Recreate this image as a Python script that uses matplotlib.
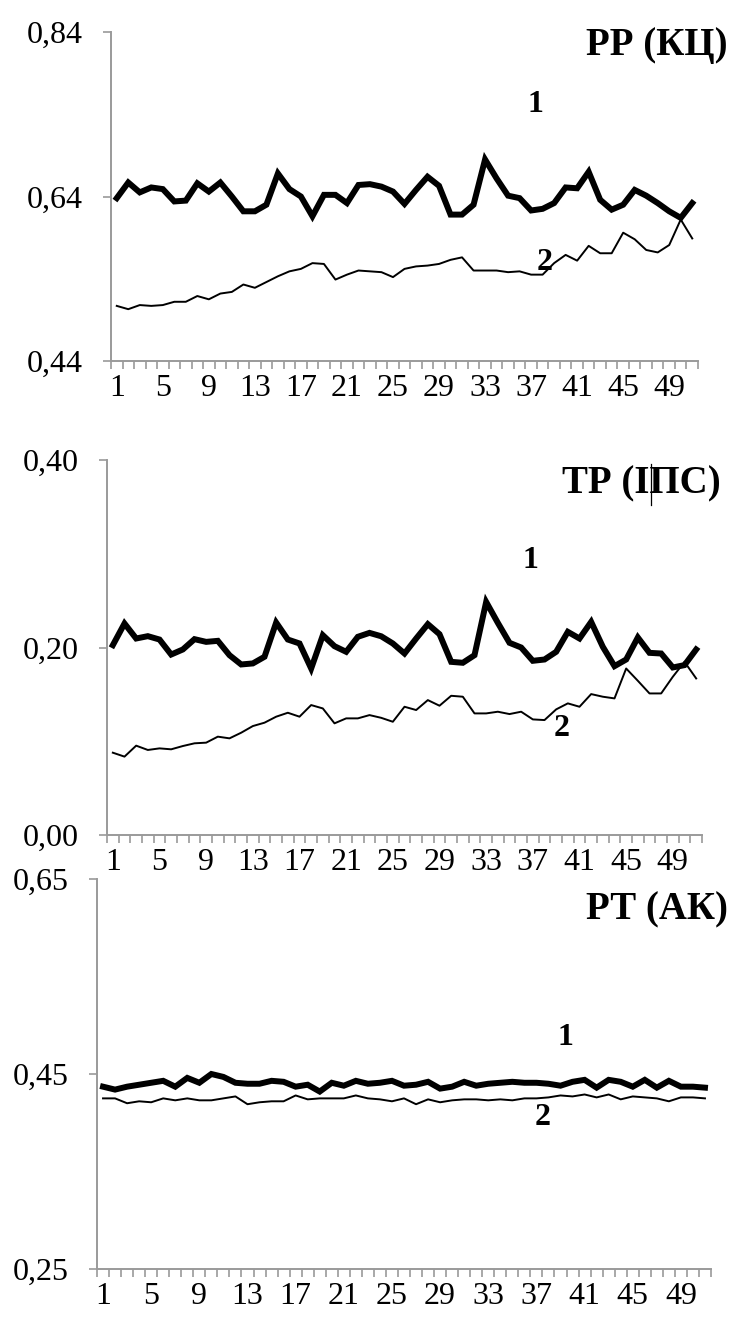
import numpy as np
import matplotlib
matplotlib.use("Agg")
import matplotlib.pyplot as plt
from matplotlib.ticker import FixedLocator, FixedFormatter, NullFormatter
from matplotlib.lines import Line2D

W, H = 743, 1317
x = np.arange(1, 52)
x_labels = [str(i) for i in range(1, 52, 4)]

# Panel 1: РР (КЦ)
p1_s1 = [0.638, 0.657, 0.645, 0.651, 0.649, 0.634, 0.635, 0.656, 0.646, 0.657,
         0.640, 0.622, 0.622, 0.630, 0.668, 0.649, 0.640, 0.616, 0.642, 0.642,
         0.632, 0.654, 0.655, 0.652, 0.646, 0.631, 0.648, 0.664, 0.653, 0.618,
         0.618, 0.630, 0.685, 0.662, 0.641, 0.638, 0.623, 0.625, 0.632, 0.651,
         0.650, 0.670, 0.636, 0.624, 0.630, 0.648, 0.641, 0.632, 0.622, 0.614,
         0.632]
p1_s2 = [0.507, 0.503, 0.508, 0.507, 0.508, 0.512, 0.512, 0.519, 0.515, 0.522,
         0.524, 0.533, 0.529, 0.536, 0.543, 0.549, 0.552, 0.559, 0.558, 0.539,
         0.545, 0.550, 0.549, 0.548, 0.542, 0.552, 0.555, 0.556, 0.558, 0.563,
         0.566, 0.550, 0.550, 0.550, 0.548, 0.549, 0.545, 0.545, 0.559, 0.569,
         0.562, 0.580, 0.571, 0.571, 0.596, 0.588, 0.575, 0.572, 0.581, 0.612,
         0.589]

# Panel 2: ТР (ІПС)
p2_s1 = [0.2025, 0.2256, 0.2096, 0.2121, 0.2085, 0.1925, 0.1979, 0.2089, 0.2060, 0.2071,
         0.1918, 0.1819, 0.1830, 0.1901, 0.2266, 0.2085, 0.2043, 0.1776, 0.2131, 0.2014,
         0.1954, 0.2114, 0.2156, 0.2120, 0.2043, 0.1936, 0.2096, 0.2249, 0.2142, 0.1847,
         0.1837, 0.1918, 0.2486, 0.2263, 0.2050, 0.2000, 0.1858, 0.1872, 0.1954, 0.2167,
         0.2096, 0.2273, 0.2007, 0.1801, 0.1872, 0.2107, 0.1943, 0.1936, 0.1787, 0.1812,
         0.1979]
p2_s2 = [0.0878, 0.0836, 0.0953, 0.0907, 0.0924, 0.0914, 0.0949, 0.0978, 0.0985, 0.1049,
         0.1031, 0.1091, 0.1162, 0.1198, 0.1262, 0.1304, 0.1262, 0.1386, 0.1350, 0.1191,
         0.1244, 0.1244, 0.1279, 0.1250, 0.1208, 0.1368, 0.1333, 0.1439, 0.1379, 0.1485,
         0.1475, 0.1297, 0.1297, 0.1315, 0.1290, 0.1315, 0.1233, 0.1226, 0.1340, 0.1404,
         0.1368, 0.1503, 0.1475, 0.1457, 0.1776, 0.1645, 0.1510, 0.1510, 0.1688, 0.1847,
         0.1670]

# Panel 3: РТ (АК)
p3_s1 = [0.437, 0.434, 0.437, 0.439, 0.441, 0.443, 0.437, 0.446, 0.441, 0.450,
         0.447, 0.441, 0.440, 0.440, 0.443, 0.442, 0.437, 0.439, 0.432, 0.441,
         0.438, 0.443, 0.440, 0.441, 0.443, 0.438, 0.439, 0.442, 0.435, 0.437,
         0.442, 0.438, 0.440, 0.441, 0.442, 0.441, 0.441, 0.440, 0.438, 0.442,
         0.444, 0.436, 0.444, 0.442, 0.437, 0.444, 0.436, 0.443, 0.437, 0.437,
         0.436]
p3_s2 = [0.425, 0.425, 0.420, 0.422, 0.421, 0.425, 0.423, 0.425, 0.423, 0.423,
         0.425, 0.427, 0.419, 0.421, 0.422, 0.422, 0.428, 0.424, 0.425, 0.425,
         0.425, 0.428, 0.425, 0.424, 0.422, 0.425, 0.419, 0.424, 0.421, 0.423,
         0.424, 0.424, 0.423, 0.424, 0.423, 0.425, 0.425, 0.426, 0.428, 0.427,
         0.429, 0.426, 0.429, 0.424, 0.427, 0.426, 0.425, 0.422, 0.426, 0.426,
         0.425]

panels = [
    dict(s1=p1_s1, s2=p1_s2, ylim=(0.44, 0.84), yticks=[0.44, 0.64, 0.84],
         ylabels=["0,44", "0,64", "0,84"], title="РР (КЦ)", title_pos=(728, 45),
         box=(111, 698, 32, 361), lab1=(37.4, 0.752), lab2=(38.2, 0.560)),
    dict(s1=p2_s1, s2=p2_s2, ylim=(0.0, 0.40), yticks=[0.0, 0.20, 0.40],
         ylabels=["0,00", "0,20", "0,40"], title="ТР (ІПС)", title_pos=(721, 484),
         box=(107, 702, 460, 835), lab1=(36.8, 0.293), lab2=(39.5, 0.114)),
    dict(s1=p3_s1, s2=p3_s2, ylim=(0.25, 0.65), yticks=[0.25, 0.45, 0.65],
         ylabels=["0,25", "0,45", "0,65"], title="РТ (АК)", title_pos=(728, 910),
         box=(97, 711, 879, 1269), lab1=(39.4, 0.487), lab2=(37.5, 0.405)),
]

plt.rcParams['font.family'] = ['Liberation Serif', 'DejaVu Serif']
fig = plt.figure(figsize=(W / 100, H / 100), dpi=100)
grey = '#9a9a9a'
TICK_FS = 23
TITLE_FS = 28

title_texts = []
for p in panels:
    l, r, t, b = p['box']
    ax = fig.add_axes([l / W, 1 - b / H, (r - l) / W, (b - t) / H])
    ax.plot(x, p['s1'], color='black', lw=4.3, solid_joinstyle='miter', zorder=3)
    ax.plot(x, p['s2'], color='black', lw=1.4, zorder=2)
    ax.set_xlim(0.5, 51.5)
    ax.set_ylim(*p['ylim'])
    for s in ['top', 'right']:
        ax.spines[s].set_visible(False)
    for s in ['left', 'bottom']:
        ax.spines[s].set_color(grey)
        ax.spines[s].set_linewidth(1.4)
    ax.yaxis.set_major_locator(FixedLocator(p['yticks']))
    ax.yaxis.set_major_formatter(FixedFormatter(p['ylabels']))
    ax.tick_params(axis='y', direction='out', length=6, width=1.2, color=grey,
                   labelsize=TICK_FS, pad=14)
    ax.xaxis.set_major_locator(FixedLocator(list(range(1, 52, 4))))
    ax.xaxis.set_major_formatter(FixedFormatter(x_labels))
    ax.xaxis.set_minor_locator(FixedLocator(np.arange(0.5, 52.0, 1.0)))
    ax.xaxis.set_minor_formatter(NullFormatter())
    ax.tick_params(axis='x', which='major', length=0, labelsize=TICK_FS, pad=9)
    ax.tick_params(axis='x', which='minor', direction='out', length=6, width=1.2,
                   color=grey)
    tx, ty = p['title_pos']
    tt = fig.text(tx / W, 1 - ty / H, p['title'], ha='right', va='center',
                  fontsize=TITLE_FS, fontweight='bold')
    title_texts.append(tt)
    ax.text(*p['lab1'], "1", ha='center', va='center', fontsize=TICK_FS, fontweight='bold')
    ax.text(*p['lab2'], "2", ha='center', va='center', fontsize=TICK_FS, fontweight='bold')

# thin caret-like bar inside the second title (between І and П)
renderer = fig.canvas.get_renderer()
tt = title_texts[1]
bb = tt.get_window_extent(renderer)
probe = fig.text(0, 0, "ПС)", fontsize=TITLE_FS, fontweight='bold')
pw = probe.get_window_extent(renderer).width
probe.remove()
bx = (bb.x1 - pw + 1) / W
fig.add_artist(Line2D([bx, bx], [bb.y0 / H - 0.002, bb.y1 / H + 0.001],
                      transform=fig.transFigure, color='black', lw=0.9))

fig.savefig("out.png", dpi=100)
